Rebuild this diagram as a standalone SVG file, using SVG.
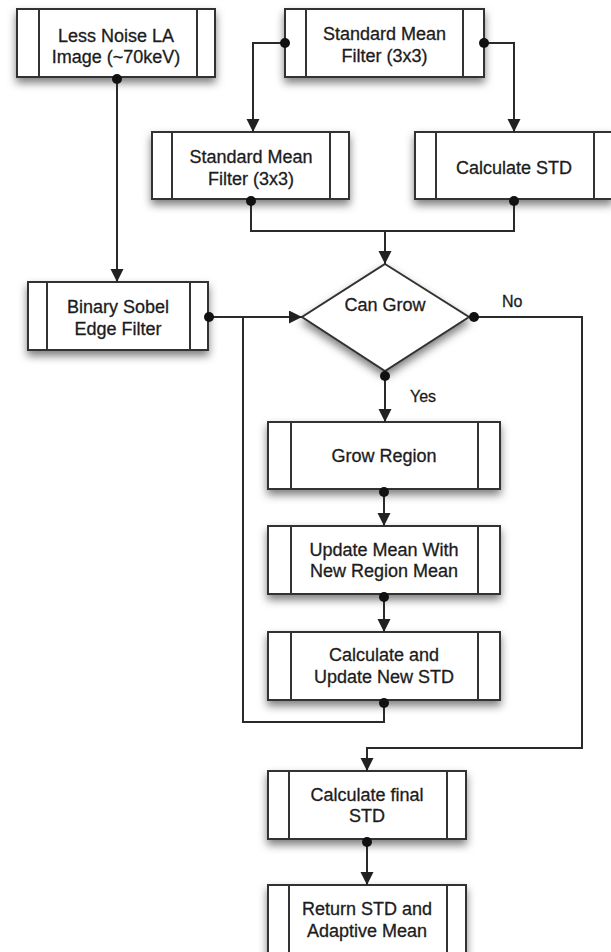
<svg xmlns="http://www.w3.org/2000/svg" width="611" height="952" viewBox="0 0 611 952">
<defs>
<filter id="sh" x="-20%" y="-20%" width="140%" height="160%">
<feDropShadow dx="0" dy="5" stdDeviation="4" flood-color="#000" flood-opacity="0.5"/>
</filter>
<marker id="ar" markerUnits="userSpaceOnUse" markerWidth="13" markerHeight="14" refX="13" refY="6.5" orient="auto">
<path d="M0,0 L13,6.5 L0,13 Z" fill="#222"/>
</marker>
</defs>
<style>
.box{fill:#fff;stroke:#333;stroke-width:2;filter:url(#sh)}
.in{stroke:#333;stroke-width:2}
.t{font-family:"Liberation Sans",Arial,sans-serif;font-size:18px;fill:#1c1c1c;stroke:#1c1c1c;stroke-width:0.3;text-anchor:middle}
.lbl{font-family:"Liberation Sans",Arial,sans-serif;font-size:16px;fill:#1c1c1c;stroke:#1c1c1c;stroke-width:0.3}
.c{fill:none;stroke:#2a2a2a;stroke-width:2}
.a{marker-end:url(#ar)}
.d{fill:#111}
</style>
<rect width="611" height="952" fill="#fff"/>

<g id="n1">
<rect class="box" x="17" y="9" width="198" height="68"/>
<line class="in" x1="39" y1="9" x2="39" y2="77"/><line class="in" x1="197" y1="9" x2="197" y2="77"/>
<text class="t" x="116" y="42">Less Noise LA</text><text class="t" x="116" y="63">Image (~70keV)</text>
</g>
<g id="n2">
<rect class="box" x="285" y="9" width="199" height="68"/>
<line class="in" x1="306" y1="9" x2="306" y2="77"/><line class="in" x1="463" y1="9" x2="463" y2="77"/>
<text class="t" x="384.5" y="40">Standard Mean</text><text class="t" x="384.5" y="62">Filter (3x3)</text>
</g>
<g id="n3">
<rect class="box" x="152" y="132" width="197" height="67"/>
<line class="in" x1="172" y1="132" x2="172" y2="199"/><line class="in" x1="330" y1="132" x2="330" y2="199"/>
<text class="t" x="251" y="163">Standard Mean</text><text class="t" x="251" y="185">Filter (3x3)</text>
</g>
<g id="n4">
<rect class="box" x="415" y="132" width="197" height="67"/>
<line class="in" x1="436" y1="132" x2="436" y2="199"/><line class="in" x1="594" y1="132" x2="594" y2="199"/>
<text class="t" x="514" y="174">Calculate STD</text>
</g>
<g id="n5">
<rect class="box" x="28" y="282" width="180" height="68"/>
<line class="in" x1="47" y1="282" x2="47" y2="350"/><line class="in" x1="190" y1="282" x2="190" y2="350"/>
<text class="t" x="118" y="313">Binary Sobel</text><text class="t" x="118" y="335">Edge Filter</text>
</g>
<g id="n6">
<polygon class="box" points="385,264 469,317 385,371 302,317"/>
<text class="t" x="385" y="311">Can Grow</text>
</g>
<g id="n7">
<rect class="box" x="268" y="422" width="232" height="67"/>
<line class="in" x1="291" y1="422" x2="291" y2="489"/><line class="in" x1="478" y1="422" x2="478" y2="489"/>
<text class="t" x="384" y="462">Grow Region</text>
</g>
<g id="n8">
<rect class="box" x="268" y="526" width="232" height="68"/>
<line class="in" x1="291" y1="526" x2="291" y2="594"/><line class="in" x1="478" y1="526" x2="478" y2="594"/>
<text class="t" x="384" y="556">Update Mean With</text><text class="t" x="384" y="577">New Region Mean</text>
</g>
<g id="n9">
<rect class="box" x="268" y="632" width="232" height="68"/>
<line class="in" x1="291" y1="632" x2="291" y2="700"/><line class="in" x1="478" y1="632" x2="478" y2="700"/>
<text class="t" x="384" y="661">Calculate and</text><text class="t" x="384" y="683">Update New STD</text>
</g>
<g id="n10">
<rect class="box" x="268" y="771" width="198" height="68"/>
<line class="in" x1="289" y1="771" x2="289" y2="839"/><line class="in" x1="447" y1="771" x2="447" y2="839"/>
<text class="t" x="367" y="801">Calculate final</text><text class="t" x="367" y="822">STD</text>
</g>
<g id="n11">
<rect class="box" x="268" y="885" width="198" height="70"/>
<line class="in" x1="289" y1="885" x2="289" y2="955"/><line class="in" x1="447" y1="885" x2="447" y2="955"/>
<text class="t" x="367" y="915">Return STD and</text><text class="t" x="367" y="937">Adaptive Mean</text>
</g>

<g id="connectors">
<path class="c a" d="M117,77 V282"/>
<path class="c a" d="M285,43 H253 V132"/>
<path class="c a" d="M484,43 H514 V132"/>
<path class="c" d="M251,199 V231 H514 V199"/>
<path class="c a" d="M385,231 V264"/>
<path class="c a" d="M208,317 H302"/>
<path class="c" d="M384,700 V722 H243 V317"/>
<path class="c a" d="M469,317 H582 V748 H367 V771"/>
<path class="c a" d="M385,371 V422"/>
<path class="c a" d="M384,489 V526"/>
<path class="c a" d="M384,594 V632"/>
<path class="c a" d="M367,839 V885"/>
<circle class="d" cx="117" cy="79" r="5"/>
<circle class="d" cx="285" cy="43" r="5"/>
<circle class="d" cx="484" cy="43" r="5"/>
<circle class="d" cx="251" cy="201" r="5"/>
<circle class="d" cx="514" cy="201" r="5"/>
<circle class="d" cx="209" cy="317" r="5"/>
<circle class="d" cx="474" cy="317" r="5"/>
<circle class="d" cx="385" cy="376" r="5"/>
<circle class="d" cx="384" cy="492" r="5"/>
<circle class="d" cx="384" cy="597" r="5"/>
<circle class="d" cx="384" cy="703" r="5"/>
<circle class="d" cx="367" cy="842" r="5"/>
<text class="lbl" x="502" y="307">No</text>
<text class="lbl" x="410" y="402">Yes</text>
</g>
</svg>
